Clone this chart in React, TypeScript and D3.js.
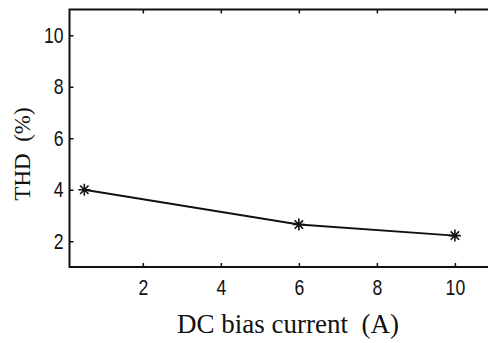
import React, { useEffect, useRef } from 'react';
import * as d3 from 'd3';

// 数据
const biasCurrent = [0.5, 6, 10];
const thdValues = [4.0, 2.65, 2.22];
const xTicks = [2, 4, 6, 8, 10];
const yTicks = [2, 4, 6, 8, 10];

export default function App() {
  const ref = useRef<SVGSVGElement>(null);

  const width = 488;
  const height = 343;
  // 坐标区
  const plot = { left: 69.5, top: 9.5, right: 493.5, bottom: 267 };

  useEffect(() => {
    const { current: node } = ref;
    if (!node) return;
    const svg = d3.select(node);
    svg.selectAll('*').remove();

    const xScale = d3.scaleLinear().domain([0.12, 10.99]).range([plot.left, plot.right]);
    const yScale = d3.scaleLinear().domain([1, 11]).range([plot.bottom, plot.top]);

    const tickFont = '"Liberation Sans", Arial, sans-serif';
    const narrow = 0.8; // 窄体数字

    // 底部轴
    const xAxis = d3.axisBottom(xScale).tickValues(xTicks).tickSize(-4).tickPadding(12).tickFormat(d3.format('d'));
    const gx = svg
      .append('g')
      .attr('transform', 'translate(0,' + plot.bottom + ')')
      .call(xAxis);
    gx.select('.domain').remove();
    gx.selectAll('line').attr('stroke', '#111').attr('stroke-width', 1.5);
    gx.selectAll('text')
      .attr('font-family', tickFont)
      .attr('font-size', 22)
      .attr('fill', '#111')
      .attr('dy', '0.72em')
      .attr('transform', `scale(${narrow},1)`);

    // 顶部刻度
    const xTop = d3.axisTop(xScale).tickValues(xTicks).tickSize(-4).tickFormat(() => '');
    const gt = svg
      .append('g')
      .attr('transform', 'translate(0,' + plot.top + ')')
      .call(xTop);
    gt.select('.domain').remove();
    gt.selectAll('line').attr('stroke', '#111').attr('stroke-width', 1.5);

    // 左侧轴
    const yAxis = d3.axisLeft(yScale).tickValues(yTicks).tickSize(-4).tickPadding(6).tickFormat(d3.format('d'));
    const gy = svg
      .append('g')
      .attr('transform', 'translate(' + plot.left + ',0)')
      .call(yAxis);
    gy.select('.domain').remove();
    gy.selectAll('line').attr('stroke', '#111').attr('stroke-width', 1.5);
    gy.selectAll<SVGTextElement, unknown>('text')
      .attr('font-family', tickFont)
      .attr('font-size', 22)
      .attr('fill', '#111')
      .attr('x', function () {
        return +(this.getAttribute('x') || 0) / narrow;
      })
      .attr('transform', `scale(${narrow},1)`);

    // 边框
    svg
      .append('rect')
      .attr('x', plot.left)
      .attr('y', plot.top)
      .attr('width', plot.right - plot.left)
      .attr('height', plot.bottom - plot.top)
      .attr('fill', 'none')
      .attr('stroke', '#111')
      .attr('stroke-width', 2);

    // 曲线
    const points = biasCurrent.map((x, i) => [x, thdValues[i]] as [number, number]);
    const linePath = d3
      .line<[number, number]>()
      .x((d) => xScale(d[0]))
      .y((d) => yScale(d[1]));
    svg
      .append('path')
      .attr('d', linePath(points))
      .attr('fill', 'none')
      .attr('stroke', '#111')
      .attr('stroke-width', 1.8);

    // 星号标记
    const s = 6;
    const markers = svg
      .append('g')
      .selectAll('g')
      .data(points)
      .enter()
      .append('g')
      .attr('transform', (d) => 'translate(' + xScale(d[0]) + ',' + yScale(d[1]) + ')');
    markers
      .append('path')
      .attr(
        'd',
        `M${-s},0L${s},0M0,${-s}L0,${s}M${-s * 0.7},${-s * 0.7}L${s * 0.7},${s * 0.7}M${-s * 0.7},${s * 0.7}L${s * 0.7},${-s * 0.7}`
      )
      .attr('stroke', '#111')
      .attr('stroke-width', 1.6)
      .attr('fill', 'none');

    // 轴标题
    svg
      .append('text')
      .attr('x', 288)
      .attr('y', 333)
      .attr('text-anchor', 'middle')
      .attr('font-family', '"Liberation Serif", "Times New Roman", serif')
      .attr('font-size', 27)
      .attr('fill', '#111')
      .style('white-space', 'pre')
      .text('DC bias current  (A)');

    svg
      .append('text')
      .attr('transform', 'translate(30,154) rotate(-90)')
      .attr('text-anchor', 'middle')
      .attr('font-family', '"Liberation Serif", "Times New Roman", serif')
      .attr('font-size', 23)
      .attr('fill', '#111')
      .style('white-space', 'pre')
      .text('THD  (%)');
  }, []);

  return (
    <svg
      ref={ref}
      width={width}
      height={height}
      style={{ position: 'absolute', left: 0, top: 0, background: '#fff' }}
    />
  );
}
